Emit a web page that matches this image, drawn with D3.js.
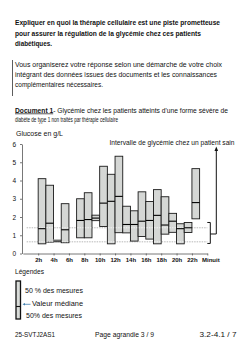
<!DOCTYPE html>
<html lang="fr">

<head>
    <meta charset="UTF-8">
    <title>Glycémie - Document 1</title>
    <style>
        * {
            margin: 0;
            padding: 0;
        }

        html,
        body {
            overflow: hidden;
            background: #fff;
        }

        text {
            font-family: 'Liberation Sans', Arial, sans-serif;
            fill: #111;
        }
    </style>
</head>

<body>
    <div id="chart"></div>
    <script src="https://cdn.jsdelivr.net/npm/d3@7"></script>
    <script>
        // heure de début de chaque créneau (1 h) et glycémies en g/L
        const hours = [2, 3, 4, 5, 7, 8, 9, 10, 11, 12, 13, 14, 15, 16, 17, 18, 19, 20, 21, 22]
        const lows = [0.53, 0.62, 0.62, 0.59, 0.86, 0.86, 1.8, 1.48, 0.53, 1.14, 1.13, 0.68, 0.93, 0.79, 0.53, 1.06, 1.16, 0.53, 1.15, 1.9]
        const medians = [1.36, 1.66, 0.68, 1.3, 1.81, 1.86, 1.94, 2.76, 2.86, 3.13, 1.59, 1.59, 1.77, 1.81, 2.09, 1.56, 1.77, 1.36, 1.41, 2.79]
        const highs = [4.1, 3.74, 0.75, 2.73, 3.0, 3.33, 2.1, 4.78, 4.34, 5.33, 2.59, 2.34, 3.38, 2.85, 3.5, 3.11, 2.2, 1.63, 1.7, 4.65]

        const tickHours = [2, 4, 6, 8, 10, 12, 14, 16, 18, 20, 22, 24]
        const tickLabels = ['2h', '4h', '6h', '8h', '10h', '12h', '14h', '16h', '18h', '20h', '22h', 'Minuit']
        const yTicks = [0, 1, 2, 3, 4, 5, 6]

        // intervalle d'un patient sain (pointillés) et accolade
        const healthyLines = [0.64, 1.41]
        const bracketRange = [0.55, 1.7]

        function drawChart() {
            const width = 248
            const height = 351

            const svg = d3.select('#chart')
                .append('svg')
                .attr('width', width)
                .attr('height', height)
                .style('background-color', '#fff')

            function addText(x, y, str, len, size, weight) {
                const t = svg.append('text')
                    .attr('x', x)
                    .attr('y', y)
                    .style('font-size', size + 'px')
                    .style('font-weight', weight || 'normal')
                    .text(str)
                if (len) {
                    t.attr('textLength', len).attr('lengthAdjust', 'spacingAndGlyphs')
                }
                return t
            }

            // consigne
            addText(15, 25.2, 'Expliquer en quoi la thérapie cellulaire est une piste prometteuse', 205, 7, 'bold')
            addText(15, 35.8, 'pour assurer la régulation de la glycémie chez ces patients', 186, 7, 'bold')
            addText(15, 45.8, 'diabétiques.', 37, 7, 'bold')

            svg.append('line')
                .attr('x1', 12.5).attr('x2', 12.5)
                .attr('y1', 60).attr('y2', 96)
                .attr('stroke', '#333')
                .attr('stroke-width', 0.8)

            addText(15, 66.8, 'Vous organiserez votre réponse selon une démarche de votre choix', 207, 7)
            addText(15, 76.8, 'intégrant des données issues des documents et les connaissances', 202, 7)
            addText(15, 86.8, 'complémentaires nécessaires.', 88, 7)

            // titre du document (une seule ligne, partie en gras soulignée)
            const docTitle = svg.append('text')
                .attr('x', 15)
                .attr('y', 112.5)
                .attr('textLength', 213)
                .attr('lengthAdjust', 'spacingAndGlyphs')
                .style('font-size', '7px')
            docTitle.append('tspan')
                .style('font-weight', 'bold')
                .style('text-decoration', 'underline')
                .text('Document 1')
            docTitle.append('tspan')
                .text('- Glycémie chez les patients atteints d\'une forme sévère de')

            addText(15, 121.8, 'diabète de type 1 non traités par thérapie cellulaire', 103, 7)

            addText(16, 135.6, 'Glucose en g/L', 47, 6.5)

            // échelles
            const x = d3.scaleLinear()
                .domain([0, 24])
                .range([22.8, 207.3])

            const y = d3.scaleLinear()
                .domain([0, 6])
                .range([253.5, 144])

            // pointillés sous les boîtes
            svg.append('g')
                .selectAll('line')
                .data(healthyLines)
                .join('line')
                .attr('x1', x(0.5))
                .attr('x2', x(24))
                .attr('y1', d => y(d))
                .attr('y2', d => y(d))
                .attr('stroke', '#9a9a9a')
                .attr('stroke-width', 0.7)
                .attr('stroke-dasharray', '1.5,1')

            const boxW = x(1) - x(0)

            const boxes = svg.append('g')
                .selectAll('g')
                .data(hours.map((h, i) => ({ h, low: lows[i], med: medians[i], high: highs[i] })))
                .join('g')

            boxes.append('rect')
                .attr('x', d => x(d.h))
                .attr('y', d => y(d.high))
                .attr('width', boxW)
                .attr('height', d => y(d.low) - y(d.high))
                .attr('fill', '#d5d7d5')
                .attr('stroke', d => d.high - d.low < 0.3 && d.h === 4 ? '#9a9a9a' : '#1a1a1a')
                .attr('stroke-width', 0.9)

            // pointillés blancs à travers les boîtes
            boxes.selectAll('line.hl')
                .data(d => healthyLines.filter(v => v > d.low && v < d.high).map(v => ({ h: d.h, v })))
                .join('line')
                .attr('class', 'hl')
                .attr('x1', d => x(d.h) + 0.6)
                .attr('x2', d => x(d.h) + boxW - 0.6)
                .attr('y1', d => y(d.v))
                .attr('y2', d => y(d.v))
                .attr('stroke', '#fff')
                .attr('stroke-width', 0.7)
                .attr('stroke-dasharray', '1.5,1')

            boxes.append('line')
                .attr('x1', d => x(d.h))
                .attr('x2', d => x(d.h) + boxW)
                .attr('y1', d => y(d.med))
                .attr('y2', d => y(d.med))
                .attr('stroke', '#000')
                .attr('stroke-width', 1.1)

            // axes
            const xAxis = svg.append('g')
                .attr('transform', `translate(0, ${y(0)})`)
                .call(d3.axisBottom(x)
                    .tickValues(tickHours)
                    .tickFormat((d, i) => tickLabels[i])
                    .tickSize(2)
                    .tickSizeOuter(0)
                    .tickPadding(2))

            const yAxis = svg.append('g')
                .attr('transform', `translate(${x(0) - 0.8}, 0)`)
                .call(d3.axisLeft(y)
                    .tickValues(yTicks)
                    .tickFormat(d3.format('d'))
                    .tickSize(2)
                    .tickSizeOuter(0)
                    .tickPadding(4))

            svg.selectAll('.domain, .tick line')
                .attr('stroke', '#555')
                .attr('stroke-width', 0.8)

            xAxis.selectAll('text')
                .style('font-size', '6px')
                .style('font-weight', 'bold')
                .attr('fill', '#222')
                .attr('dx', d => d === 24 ? 3 : 0)

            yAxis.selectAll('text')
                .style('font-size', '6.5px')
                .attr('fill', '#222')

            // accolade et flèche vers l'intervalle sain
            const bx = x(24) + 3
            const bracket = svg.append('g')
                .attr('fill', 'none')
                .attr('stroke', '#111')
                .attr('stroke-width', 1)

            bracket.append('path')
                .attr('d', `M${bx - 3},${y(bracketRange[1])} H${bx} V${y(bracketRange[0])} H${bx - 3}`)

            const midY = y(0.95 * (bracketRange[0] + bracketRange[1]) / 2)
            const ax = bx + 6
            bracket.append('path')
                .attr('d', `M${bx},${midY} H${ax} V${150}`)

            svg.append('path')
                .attr('d', `M${ax - 1.8},${151} L${ax},${146.5} L${ax + 1.8},${151} Z`)
                .attr('fill', '#111')

            addText(109.5, 145, 'Intervalle de glycémie chez un patient sain', 125, 6.5)

            // légende
            addText(15, 274, 'Légendes', 29, 6.5)

            svg.append('rect')
                .attr('x', 16)
                .attr('y', 281)
                .attr('width', 4.5)
                .attr('height', 38)
                .attr('fill', '#d9dcd9')
                .attr('stroke', '#111')
                .attr('stroke-width', 1.3)

            svg.append('line')
                .attr('x1', 16).attr('x2', 20.5)
                .attr('y1', 306.5).attr('y2', 306.5)
                .attr('stroke', '#111')
                .attr('stroke-width', 1.1)

            svg.append('line')
                .attr('x1', 24).attr('x2', 30.5)
                .attr('y1', 304.3).attr('y2', 304.3)
                .attr('stroke', '#3f7fb0')
                .attr('stroke-width', 0.8)
            svg.append('path')
                .attr('d', 'M22.5,304.3 L25,303 L25,305.6 Z')
                .attr('fill', '#3f7fb0')

            addText(25, 293, '50 % des mesures', 58, 6.5)
            addText(32, 306, 'Valeur médiane', 51, 6.5)
            addText(26, 318, '50% des mesures', 56, 6.5)

            // pied de page
            addText(15, 336.5, '25-SVTJ2AS1', 40, 6.5)
            addText(95, 336.5, 'Page agrandie 3 / 9', 59, 6.5)
            addText(199.5, 336.5, '3.2-4.1 / 7', 37, 6.5)
        }

        drawChart()
    </script>
</body>

</html>
